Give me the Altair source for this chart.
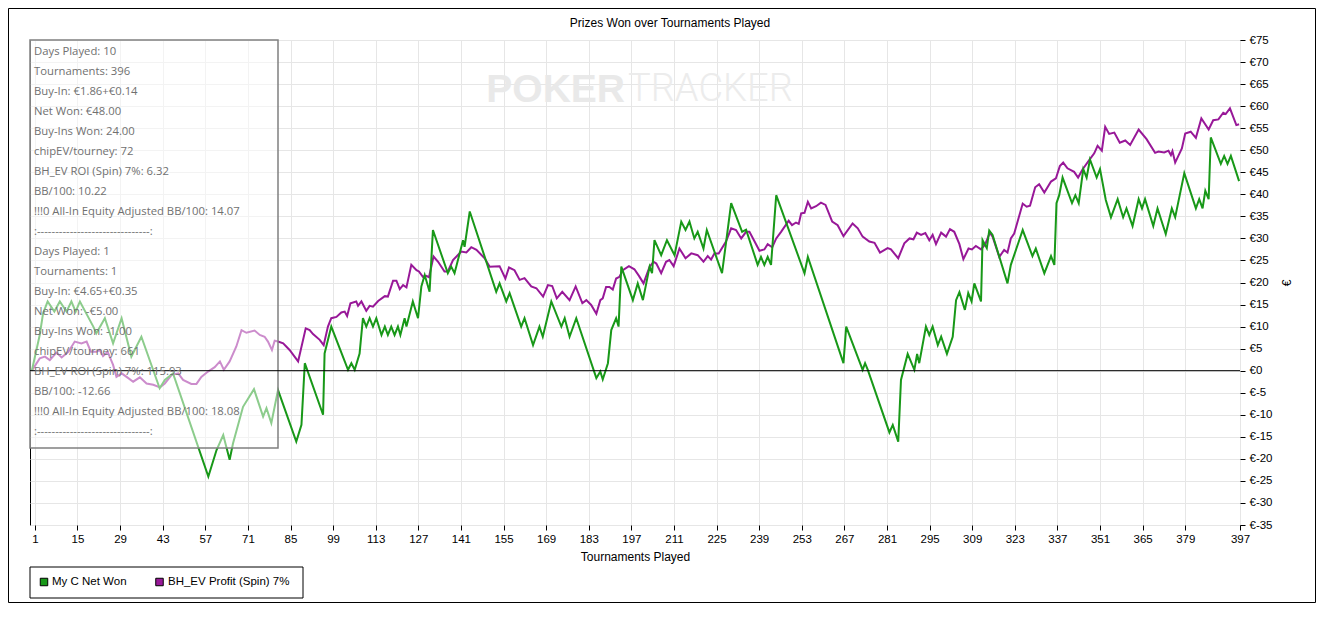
import altair as alt
import pandas as pd

# ---------------- data ----------------
green_name = "My C Net Won"
purple_name = "BH_EV Profit (Spin) 7%"

green_t = [0, 2.6, 3.7, 5.2, 7.4, 9.2, 11.4, 13.0, 14.4, 15.8, 20.2, 21.2, 24.0, 26.7, 29.5, 32.7, 36.0,
           42.0, 43.7, 46.4, 58.0, 60.7, 62.9, 65.0, 66.1, 69.4, 73.0, 76.0, 77.1, 78.7, 80.9, 86.9,
           88.6, 89.7, 95.7, 96.2, 98.4, 103.9, 105.0, 106.1, 107.7, 108.8, 109.9, 111.0, 112.1, 113.2,
           114.9, 116.0, 117.0, 118.1, 119.2, 120.3, 121.1, 122.5, 123.1, 125.2, 126.9, 128.0, 129.1,
           130.7, 131.8, 136.7, 137.8, 138.9, 141.7, 142.2, 143.9, 152.6, 153.7, 155.9, 157.0, 160.8,
           161.9, 164.7, 166.8, 167.9, 170.7, 174.0, 175.1, 176.7, 178.9, 185.5, 186.8, 187.6, 189.3,
           190.4, 192.0, 192.8, 193.7, 197.5, 199.1, 200.8, 203.0, 203.8, 204.6, 206.8, 208.7, 211.2,
           213.4, 214.8, 216.1, 217.7, 218.8, 220.7, 221.8, 226.8, 229.8, 233.4, 234.7, 238.5, 239.6,
           240.7, 241.8, 242.9, 244.6, 253.9, 255.0, 266.7, 267.6, 273.0, 273.8, 274.7, 281.8, 282.9,
           284.7, 285.6, 287.8, 290.0, 290.9, 291.6, 293.8, 294.9, 296.0, 297.7, 298.8, 300.7, 302.6,
           303.7, 304.8, 306.6, 307.7, 308.8, 309.7, 311.9, 312.4, 313.8, 314.6, 315.7, 320.6, 321.7,
           325.6, 328.8, 329.9, 332.7, 334.9, 336.0, 336.7, 337.6, 338.7, 341.8, 342.9, 344.0, 345.5,
           346.6, 347.7, 349.9, 351.0, 352.9, 354.6, 356.8, 358.6, 359.7, 361.7, 363.7, 364.8, 365.8,
           368.5, 369.9, 372.6, 374.6, 375.7, 378.7, 382.5, 383.6, 384.7, 385.6, 386.7, 387.4, 390.7,
           391.8, 392.9, 394.0, 396.7]
green_v = [0, 8.1, 13.0, 15.7, 13.4, 15.7, 13.4, 15.7, 13.4, 15.7, 10.0, 8.5, 11.9, 6.2, 11.9, 3.2, 7.7,
           -4.0, -2.1, -0.6, -24.0, -18.0, -14.6, -20.2, -16.5, -8.2, -4.2, -10.4, -8.5, -11.9, -4.4, -16.1,
           -12.3, 1.7, -10.0, 3.9, 10.0, 0.2, 1.7, 0.2, 3.9, 11.9, 10.0, 11.9, 10.0, 11.9,
           8.1, 10.0, 8.1, 10.0, 8.1, 10.0, 8.1, 11.9, 10.0, 15.7, 11.9, 19.1, 21.7,
           17.9, 31.9, 22.1, 23.6, 22.1, 29.6, 28.1, 36.1, 17.9, 19.8, 15.7, 17.6, 10.0,
           11.9, 5.8, 10.0, 7.7, 15.7, 10.0, 11.9, 7.7, 11.9, -1.7, -0.2, -2.0, 1.7,
           9.2, 11.9, 10.0, 23.6, 16.0, 19.8, 16.0, 23.6, 22.1, 29.6, 26.2, 29.6, 26.2,
           33.8, 31.9, 33.8, 30.0, 31.5, 27.7, 31.9, 22.1, 38.0, 31.5, 32.0, 24.0, 25.8,
           24.0, 25.8, 24.0, 39.8, 22.1, 25.8, 1.7, 10.0, 0.2, 1.7, 0.2, -14.0, -12.3,
           -16.1, -2.1, 3.8, 0.2, 3.8, 1.7, 10.0, 8.1, 10.0, 5.8, 7.7, 3.8, 7.7,
           16.0, 17.8, 13.8, 17.6, 15.7, 19.8, 15.7, 29.6, 27.8, 31.8, 30.8, 19.8, 24.0,
           31.9, 26.0, 27.7, 22.1, 26.0, 24.0, 38.0, 39.8, 43.8, 38.0, 39.8, 38.0, 45.7,
           43.8, 47.9, 43.8, 45.7, 38.7, 34.8, 38.9, 34.8, 36.8, 32.8, 38.9, 36.8, 38.9,
           32.8, 36.8, 31.0, 36.8, 34.8, 44.8, 36.8, 38.9, 36.8, 40.8, 38.9, 52.9, 46.9,
           48.7, 46.9, 48.7, 43.0]

purple_t = [0, 2.6, 4.3, 5.9, 8.1, 9.8, 12.0, 14.1, 16.3, 18.0, 19.4, 21.3, 22.3, 23.4, 24.9, 26.7, 27.8,
            29.5, 31.7, 33.3, 35.5, 37.7, 39.9, 42.1, 43.7, 45.9, 48.1, 49.7, 52.4, 54.1, 55.7, 57.9,
            60.1, 61.8, 63.1, 65.0, 67.2, 68.9, 70.5, 73.2, 74.9, 76.5, 77.6, 78.9, 79.8, 80.9, 82.6,
            84.7, 87.5, 90.0, 91.3, 92.4, 94.6, 95.9, 97.3, 98.4, 100.1, 101.7, 102.8, 103.6, 104.7,
            106.6, 107.2, 108.3, 109.9, 111.0, 112.1, 113.8, 116.0, 117.0, 118.7, 119.8, 120.9, 122.0,
            123.1, 124.7, 126.4, 127.2, 128.5, 129.6, 130.5, 132.0, 133.5, 135.6, 136.7, 138.4, 141.1,
            142.8, 144.4, 146.1, 148.8, 150.4, 153.7, 155.6, 156.8, 158.6, 160.3, 161.9, 164.1, 165.8,
            168.0, 169.6, 171.0, 172.5, 174.3, 176.7, 178.7, 180.9, 182.2, 183.8, 185.5, 186.8, 187.6,
            188.7, 189.8, 190.9, 192.0, 193.1, 194.2, 196.2, 198.0, 199.5, 201.0, 203.0, 204.3, 205.2,
            206.8, 208.4, 209.5, 210.9, 212.8, 214.8, 216.7, 218.8, 220.7, 222.1, 223.2, 224.3, 225.7,
            228.1, 229.8, 231.4, 233.1, 234.7, 235.8, 237.5, 239.1, 240.7, 241.8, 243.3, 244.6, 246.2,
            248.7, 249.8, 251.1, 252.0, 252.8, 253.9, 255.0, 256.1, 257.7, 259.3, 260.8, 263.0, 264.8,
            266.7, 269.7, 271.4, 273.0, 275.2, 276.9, 278.7, 281.2, 282.3, 284.7, 286.7, 288.4, 289.7,
            290.8, 292.2, 293.6, 294.9, 296.0, 297.1, 298.8, 300.4, 301.7, 303.1, 304.8, 306.1, 307.8,
            308.9, 310.2, 311.9, 313.3, 314.8, 315.7, 317.9, 319.5, 320.6, 321.7, 322.8, 325.6, 326.9,
            328.0, 329.7, 331.0, 332.7, 334.9, 336.5, 337.8, 338.9, 340.3, 342.5, 343.8, 345.3, 347.5,
            349.1, 350.2, 351.6, 352.7, 354.0, 355.7, 357.5, 359.3, 360.9, 363.7, 366.3, 369.1, 370.2,
            372.1, 373.5, 374.3, 374.8, 375.7, 377.9, 379.0, 380.8, 382.5, 384.3, 386.7, 388.2, 389.9,
            391.5, 392.3, 393.7, 395.8, 396.7]
purple_v = [0, 2.8, 3.2, 2.4, 4.1, 3.0, 4.3, 6.6, 6.2, 6.6, 4.3, 4.3, 4.7, 3.3, 4.3, 1.3, -1.4,
            -0.6, -1.7, -2.5, -1.5, -2.9, -3.2, -3.8, -2.9, -1.0, -0.6, -2.1, -3.0, -3.0, -1.4, -0.2,
            0.8, 2.1, 0.2, 2.1, 5.5, 9.2, 8.6, 9.1, 8.1, 7.7, 6.6, 4.7, 6.8, 6.6, 6.2,
            4.7, 2.1, 9.6, 9.2, 8.3, 7.0, 5.8, 10.0, 11.9, 12.2, 13.2, 13.4, 12.4, 15.3,
            15.7, 14.7, 15.7, 13.6, 14.7, 14.5, 15.8, 16.9, 16.8, 20.4, 20.4, 18.5, 19.4,
            18.9, 24.0, 22.8, 22.5, 21.3, 21.5, 21.2, 25.9, 24.7, 22.5, 22.5, 25.1, 27.0,
            26.8, 28.0, 27.4, 25.5, 23.6, 23.7, 20.9, 23.4, 22.8, 20.6, 21.0, 19.1, 18.7,
            16.8, 19.4, 19.2, 16.4, 17.9, 16.0, 19.1, 15.3, 16.0, 14.9, 12.9, 16.0, 16.4,
            19.0, 19.0, 18.4, 20.9, 21.3, 22.8, 23.7, 23.0, 21.5, 19.8, 23.6, 24.7, 24.3,
            22.1, 24.7, 25.1, 23.7, 27.7, 25.5, 26.6, 26.2, 24.7, 26.0, 25.2, 26.6, 26.6,
            29.3, 32.3, 31.9, 30.0, 31.5, 31.5, 29.3, 27.2, 27.5, 28.7, 28.0, 30.0, 31.5,
            34.0, 33.0, 33.6, 33.3, 35.7, 35.8, 38.3, 36.8, 37.3, 38.1, 37.6, 33.8, 33.0,
            30.5, 33.4, 32.3, 30.4, 29.3, 29.0, 26.8, 27.8, 27.5, 25.5, 28.9, 30.0, 29.8,
            31.3, 30.8, 31.2, 29.6, 30.8, 28.7, 31.3, 30.4, 32.1, 31.5, 28.7, 25.3, 27.7,
            27.5, 28.3, 27.5, 28.7, 31.3, 30.4, 25.8, 27.4, 26.8, 30.0, 31.1, 37.9, 37.2,
            37.4, 41.6, 42.3, 40.4, 42.9, 43.6, 46.4, 47.2, 45.9, 45.1, 43.8, 45.7, 47.8,
            49.3, 51.0, 49.9, 55.3, 53.7, 54.0, 51.7, 52.2, 51.2, 54.7, 52.5, 49.4, 49.7,
            49.5, 49.9, 48.9, 49.8, 47.2, 50.4, 53.8, 54.2, 52.8, 57.2, 54.7, 56.8, 57.0,
            58.5, 58.2, 59.5, 55.7, 55.9]

x_ticks = [1, 15, 29, 43, 57, 71, 85, 99, 113, 127, 141, 155, 169, 183, 197, 211, 225, 239, 253,
           267, 281, 295, 309, 323, 337, 351, 365, 379, 397]
y_ticks = list(range(-35, 80, 5))
zero_level = [0]

info_lines = [
    "Days Played: 10",
    "Tournaments: 396",
    "Buy-In: €1.86+€0.14",
    "Net Won: €48.00",
    "Buy-Ins Won: 24.00",
    "chipEV/tourney: 72",
    "BH_EV ROI (Spin) 7%: 6.32",
    "BB/100: 10.22",
    "!!!0 All-In Equity Adjusted BB/100: 14.07",
    ":-------------------------------:",
    "Days Played: 1",
    "Tournaments: 1",
    "Buy-In: €4.65+€0.35",
    "Net Won: -€5.00",
    "Buy-Ins Won: -1.00",
    "chipEV/tourney: 661",
    "BH_EV ROI (Spin) 7%: 115.93",
    "BB/100: -12.66",
    "!!!0 All-In Equity Adjusted BB/100: 18.08",
    ":-------------------------------:",
]

series_names = [green_name, purple_name]
series_colors = ["#189818", "#981898"]

df = pd.concat([
    pd.DataFrame({"t": purple_t, "v": purple_v, "series": purple_name}),
    pd.DataFrame({"t": green_t, "v": green_v, "series": green_name}),
], ignore_index=True)

legend_df = pd.DataFrame({"series": series_names})
zero_df = pd.DataFrame({"v": zero_level})

W, H = 1210, 485
AX_FONT = "Liberation Sans"

color_scale = alt.Scale(domain=series_names, range=series_colors)

x_axis = alt.Axis(values=x_ticks, title="Tournaments Played", grid=True,
                  gridColor="#e6e6e6", domain=False, tickColor="black", tickSize=5,
                  labelFont=AX_FONT, labelFontSize=11.5, labelColor="black",
                  labelFlush=False, labelOverlap=False, labelPadding=3,
                  titleFont=AX_FONT, titleFontSize=12, titleFontWeight="normal",
                  titleColor="black", titlePadding=7)
y_axis = alt.Axis(orient="right", values=y_ticks, labelExpr="'€' + datum.value",
                  title="€", grid=True, gridColor="#e6e6e6", domain=False,
                  tickColor="black", tickSize=5, labelFont=AX_FONT, labelFontSize=11.5,
                  labelColor="black", labelFlush=False, labelOverlap=False,
                  labelPadding=4, titleFont=AX_FONT, titleFontSize=12, titleAngle=270,
                  titleFontWeight="normal", titleColor="black", titlePadding=21)
x_scale = alt.Scale(domain=[-0.6, 397], nice=False, zero=False)
y_scale = alt.Scale(domain=[-35, 75], nice=False, zero=False)

xs = alt.X("t:Q", scale=x_scale, axis=x_axis)
ys = alt.Y("v:Q", scale=y_scale, axis=y_axis)

one = alt.Data(values=[{}])

watermark1 = alt.Chart(one).mark_text(
    text="POKER", font="Liberation Sans", fontWeight="bold", fontSize=39, color="#e9e9e9",
    align="right", baseline="middle").encode(x=alt.value(595), y=alt.value(50))
watermark2 = alt.Chart(one).mark_text(
    text="TRACKER", font="Roboto", fontWeight=300, fontSize=38, color="#ececec",
    align="left", baseline="middle").encode(x=alt.value(598), y=alt.value(50))

lines = alt.Chart(df).mark_line(strokeWidth=2).encode(
    x=xs, y=ys,
    color=alt.Color("series:N", scale=color_scale, legend=None),
    detail="series:N",
    order="t:Q",
)

box = alt.Chart(one).mark_rect(fill="white", fillOpacity=0.5, stroke="#808080", strokeWidth=1.5).encode(
    x=alt.value(0), x2=alt.value(248), y=alt.value(0), y2=alt.value(408))

zero = alt.Chart(zero_df).mark_rule(color="black", strokeWidth=1).encode(y=ys)

info = alt.Chart(one).mark_text(
    text=info_lines, font="Open Sans", fontSize=11.3, color="#707070", align="left",
    baseline="middle", lineHeight=20).encode(x=alt.value(4), y=alt.value(12))

title = alt.Chart(one).mark_text(
    text="Prizes Won over Tournaments Played", font=AX_FONT, fontSize=12, color="black",
    align="center", baseline="middle").encode(x=alt.value(640), y=alt.value(-17))

leg_box = alt.Chart(one).mark_rect(fill="white", stroke="black", strokeWidth=1).encode(
    x=alt.value(0), x2=alt.value(273), y=alt.value(527), y2=alt.value(558))

leg_g = alt.Chart(legend_df).transform_filter(alt.datum.series == green_name)
leg_p = alt.Chart(legend_df).transform_filter(alt.datum.series == purple_name)
sq_kw = dict(shape="square", size=56, filled=True, stroke="black", strokeWidth=1, opacity=1)
leg_sq_g = leg_g.mark_point(**sq_kw).encode(
    x=alt.value(14), y=alt.value(542),
    fill=alt.Fill("series:N", scale=color_scale, legend=None))
leg_sq_p = leg_p.mark_point(**sq_kw).encode(
    x=alt.value(129.5), y=alt.value(542),
    fill=alt.Fill("series:N", scale=color_scale, legend=None))
txt_kw = dict(font=AX_FONT, fontSize=11.5, color="black", align="left", baseline="middle")
leg_t_g = leg_g.mark_text(**txt_kw).encode(x=alt.value(22), y=alt.value(542), text="series:N")
leg_t_p = leg_p.mark_text(**txt_kw).encode(x=alt.value(138), y=alt.value(542), text="series:N")

frame = alt.Chart(one).mark_rect(fillOpacity=0, stroke="black", strokeWidth=1).encode(
    x=alt.value(-21.5), x2=alt.value(1285.5), y=alt.value(-31.5), y2=alt.value(562.5))

chart = alt.layer(
    watermark1, watermark2, lines, box, zero, info, title,
    leg_box, leg_sq_g, leg_sq_p, leg_t_g, leg_t_p, frame
).resolve_scale(color="shared", fill="shared").properties(
    width=W, height=H,
    autosize=alt.AutoSizeParams(type="none"),
    padding={"left": 22, "top": 32, "right": 76, "bottom": 78},
    background="white",
).configure_view(stroke="black", strokeWidth=1)

chart.save("out.html", embed_options={"renderer": "svg", "actions": False})
